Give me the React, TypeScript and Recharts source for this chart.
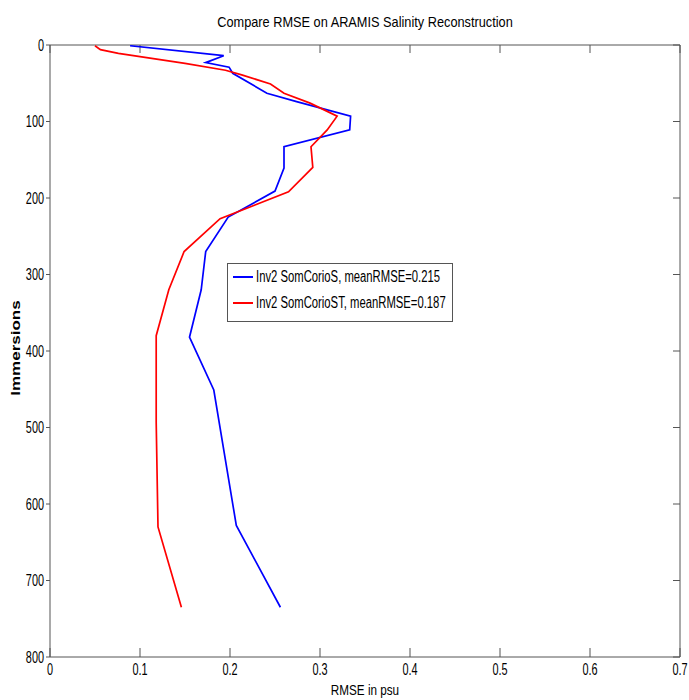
import React from 'react';
import { ScatterChart, Scatter, XAxis, YAxis } from 'recharts';

const title = 'Compare RMSE on ARAMIS Salinity Reconstruction';
const xLabel = 'RMSE in psu';
const yLabel = 'Immersions';

const xTicks = [0, 0.1, 0.2, 0.3, 0.4, 0.5, 0.6, 0.7];
const yTicks = [0, 100, 200, 300, 400, 500, 600, 700, 800];

const blueName = 'Inv2 SomCorioS, meanRMSE=0.215';
const blueDepth = [1, 14, 23, 29, 37, 63, 74, 93, 111, 133, 161, 191, 225, 270, 320, 382, 451, 628, 735];
const blueRmse = [0.089, 0.193, 0.173, 0.199, 0.203, 0.241, 0.274, 0.334, 0.333, 0.26, 0.26, 0.25, 0.198, 0.173, 0.168, 0.155, 0.182, 0.207, 0.256];

const redName = 'Inv2 SomCorioST, meanRMSE=0.187';
const redDepth = [1, 6, 11, 24, 33, 39, 51, 63, 76, 93, 111, 133, 160, 192, 227, 270, 320, 380, 493, 630, 735];
const redRmse = [0.05, 0.056, 0.076, 0.15, 0.195, 0.213, 0.245, 0.26, 0.289, 0.319, 0.308, 0.29, 0.292, 0.265, 0.189, 0.149, 0.132, 0.118, 0.118, 0.12, 0.146];

const blueData = blueDepth.map((d, i) => ({ x: blueRmse[i], y: d }));
const redData = redDepth.map((d, i) => ({ x: redRmse[i], y: d }));

const FONT = '"Liberation Sans", Arial, Helvetica, sans-serif';
const AXIS = '#555555';
const SQ = 0.68;

const NoDot = () => <g />;

const BottomTick = (props: any) => {
  const { x, y, payload } = props;
  return (
    <g transform={`translate(${x},${y})`}>
      <text transform={`scale(${SQ},1)`} textAnchor="middle" y={11.5} fontSize={16} fontFamily={FONT} fill="#000">
        {String(payload.value)}
      </text>
    </g>
  );
};

const LeftTick = (props: any) => {
  const { x, y, payload } = props;
  return (
    <g transform={`translate(${x},${y})`}>
      <text transform={`scale(${SQ},1)`} textAnchor="end" y={5.8} fontSize={16} fontFamily={FONT} fill="#000">
        {String(payload.value)}
      </text>
    </g>
  );
};

const legendItems = [
  { name: blueName, color: '#0000ff', top: 4 },
  { name: redName, color: '#ff0000', top: 30 },
];

export default function App() {
  return (
    <div style={{ position: 'absolute', left: 0, top: 0, width: 689, height: 700, background: '#fff', fontFamily: FONT, overflow: 'hidden' }}>
      <div
        style={{
          position: 'absolute',
          left: 365,
          top: 13,
          transform: 'translateX(-50%) scaleX(0.85)',
          fontSize: 15,
          lineHeight: '17px',
          color: '#000',
          whiteSpace: 'nowrap',
        }}
      >
        {title}
      </div>
      <div
        style={{
          position: 'absolute',
          left: 365,
          top: 681,
          transform: 'translateX(-50%) scaleX(0.78)',
          fontSize: 15,
          lineHeight: '17px',
          color: '#000',
          whiteSpace: 'nowrap',
        }}
      >
        {xLabel}
      </div>
      <div
        style={{
          position: 'absolute',
          left: 16,
          top: 348,
          transform: 'translate(-50%, -50%) rotate(-90deg) scaleY(0.72)',
          fontSize: 17,
          lineHeight: '19px',
          fontWeight: 'bold',
          color: '#000',
          whiteSpace: 'nowrap',
        }}
      >
        {yLabel}
      </div>
      <ScatterChart width={689} height={700} margin={{ top: 44, right: 8, bottom: 0, left: 0 }}>
        <XAxis
          xAxisId="b"
          type="number"
          dataKey="x"
          domain={[0, 0.7]}
          ticks={xTicks}
          allowDataOverflow
          orientation="bottom"
          height={43}
          tickSize={-9}
          tickMargin={15.5}
          stroke={AXIS}
          tick={BottomTick}
          interval={0}
        />
        <XAxis
          xAxisId="t"
          type="number"
          dataKey="x"
          domain={[0, 0.7]}
          ticks={xTicks}
          allowDataOverflow
          orientation="top"
          height={1}
          tickSize={-8}
          stroke={AXIS}
          tickFormatter={() => ''}
          interval={0}
        />
        <YAxis
          yAxisId="l"
          type="number"
          dataKey="y"
          domain={[0, 800]}
          ticks={yTicks}
          reversed
          allowDataOverflow
          orientation="left"
          width={50}
          tickSize={4}
          tickMargin={2}
          stroke={AXIS}
          tick={LeftTick}
          interval={0}
        />
        <YAxis
          yAxisId="r"
          type="number"
          dataKey="y"
          domain={[0, 800]}
          ticks={yTicks}
          reversed
          allowDataOverflow
          orientation="right"
          width={1}
          tickSize={-7}
          stroke={AXIS}
          tickFormatter={() => ''}
          interval={0}
        />
        <Scatter
          xAxisId="b"
          yAxisId="l"
          data={blueData}
          name={blueName}
          line={{ stroke: '#0000ff', strokeWidth: 1.7 }}
          shape={NoDot}
          fill="#0000ff"
          isAnimationActive={false}
        />
        <Scatter
          xAxisId="b"
          yAxisId="l"
          data={redData}
          name={redName}
          line={{ stroke: '#ff0000', strokeWidth: 1.7 }}
          shape={NoDot}
          fill="#ff0000"
          isAnimationActive={false}
        />
      </ScatterChart>
      <div
        style={{
          position: 'absolute',
          left: 227,
          top: 263,
          width: 226,
          height: 59,
          border: '1px solid #555',
          background: '#fff',
          boxSizing: 'border-box',
          color: '#000',
        }}
      >
        {legendItems.map((it) => (
          <div key={it.name} style={{ position: 'absolute', left: 5, top: it.top, height: 18, display: 'flex', alignItems: 'center', whiteSpace: 'nowrap' }}>
            <span style={{ display: 'inline-block', width: 20, height: 2, background: it.color, marginRight: 3 }} />
            <span
              style={{
                display: 'inline-block',
                fontSize: 16,
                lineHeight: '18px',
                transform: 'scaleX(0.705)',
                transformOrigin: 'left center',
              }}
            >
              {it.name}
            </span>
          </div>
        ))}
      </div>
    </div>
  );
}
